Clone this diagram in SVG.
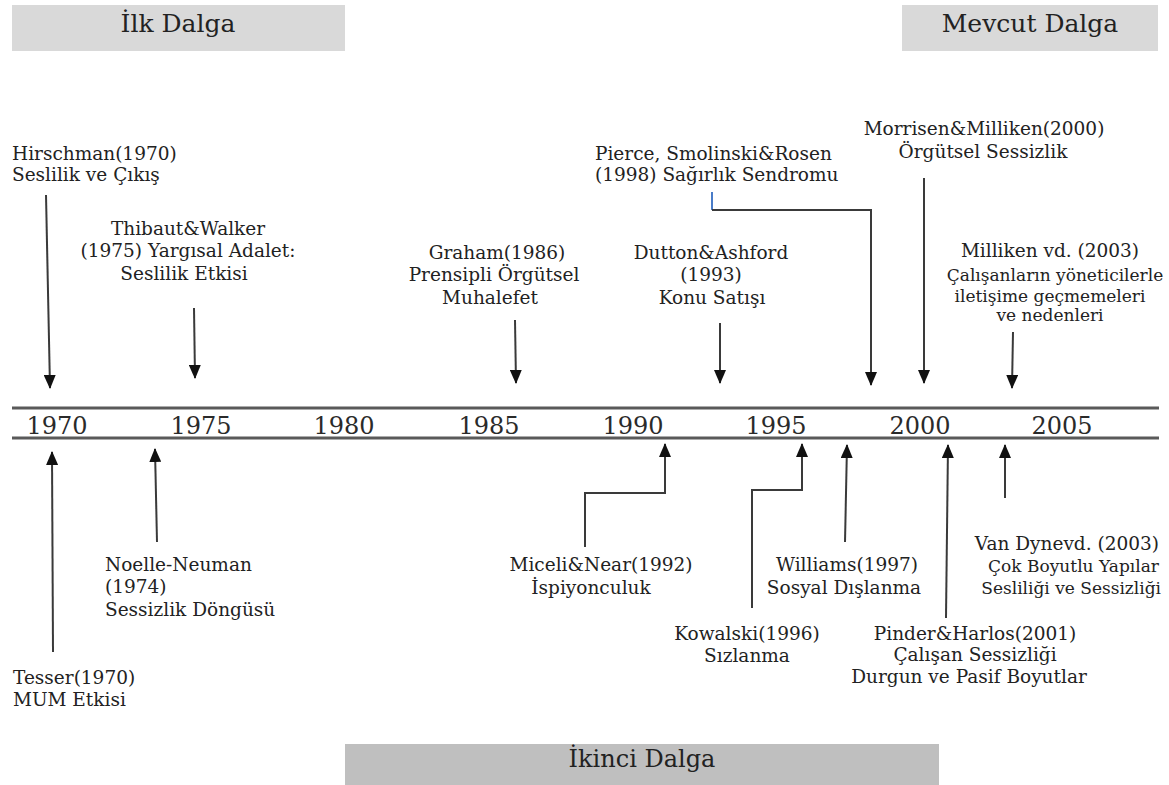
<svg xmlns="http://www.w3.org/2000/svg" width="1169" height="785" viewBox="0 0 1169 785">
  <style>
    .lbl { font-family: "DejaVu Serif", "Liberation Serif", serif; font-size: 18.5px; fill: #222; }
    .sm { font-size: 17px; }
    .mid { text-anchor: middle; }
    .end { text-anchor: end; }
    .year { font-family: "DejaVu Serif", "Liberation Serif", serif; font-size: 24px; fill: #2a2a2a; text-anchor: middle; }
    .wave { font-family: "DejaVu Serif", "Liberation Serif", serif; font-size: 25px; fill: #222; text-anchor: middle; }
    .axis { stroke: #5a5a5a; stroke-width: 3; fill: none; }
    .conn { stroke: #3a3a3a; stroke-width: 2; fill: none; marker-end: url(#arrow); }
  </style>
  <defs>
    <marker id="arrow" viewBox="0 0 14 12" refX="13" refY="6" markerWidth="14" markerHeight="12" markerUnits="userSpaceOnUse" orient="auto">
      <path d="M0,0 L14,6 L0,12 z" fill="#111"/>
    </marker>
  </defs>
  <rect width="1169" height="785" fill="#fff"/>

  <!-- wave headers -->
  <g id="wave-first">
    <rect x="12" y="5" width="333" height="46" fill="#d9d9d9"/>
    <text class="wave" x="178" y="32">İlk Dalga</text>
  </g>
  <g id="wave-current">
    <rect x="902" y="5" width="256" height="46" fill="#d9d9d9"/>
    <text class="wave" x="1030" y="32">Mevcut Dalga</text>
  </g>
  <g id="wave-second">
    <rect x="345" y="744" width="594" height="41" fill="#bfbfbf"/>
    <text class="wave" x="642" y="767" style="font-size:24px">İkinci Dalga</text>
  </g>

  <!-- time axis -->
  <g id="axis">
    <line class="axis" x1="12" y1="408" x2="1159" y2="408"/>
    <line class="axis" x1="12" y1="438" x2="1159" y2="438"/>
    <text class="year" x="57" y="434">1970</text>
    <text class="year" x="201" y="434">1975</text>
    <text class="year" x="344" y="434">1980</text>
    <text class="year" x="489" y="434">1985</text>
    <text class="year" x="633" y="434">1990</text>
    <text class="year" x="776" y="434">1995</text>
    <text class="year" x="920" y="434">2000</text>
    <text class="year" x="1062" y="434">2005</text>
  </g>

  <!-- events above the axis -->
  <g id="hirschman">
    <text class="lbl" x="12" y="160">Hirschman(1970)</text>
    <text class="lbl" x="12" y="181">Seslilik ve Çıkış</text>
  </g>
  <g id="thibaut-walker">
    <text class="lbl mid" x="188" y="235">Thibaut&amp;Walker</text>
    <text class="lbl mid" x="188" y="257">(1975) Yargısal Adalet:</text>
    <text class="lbl mid" x="184" y="280">Seslilik Etkisi</text>
  </g>
  <g id="graham">
    <text class="lbl mid" x="497" y="259">Graham(1986)</text>
    <text class="lbl mid" x="494" y="281">Prensipli Örgütsel</text>
    <text class="lbl mid" x="490" y="304">Muhalefet</text>
  </g>
  <g id="dutton-ashford">
    <text class="lbl mid" x="711" y="259">Dutton&amp;Ashford</text>
    <text class="lbl mid" x="711" y="281">(1993)</text>
    <text class="lbl mid" x="712" y="304">Konu Satışı</text>
  </g>
  <g id="pierce">
    <text class="lbl" x="595" y="160">Pierce, Smolinski&amp;Rosen</text>
    <text class="lbl" x="595" y="181">(1998) Sağırlık Sendromu</text>
  </g>
  <g id="morrisen-milliken">
    <text class="lbl mid" x="984" y="135">Morrisen&amp;Milliken(2000)</text>
    <text class="lbl mid" x="983" y="158">Örgütsel Sessizlik</text>
  </g>
  <g id="milliken">
    <text class="lbl mid" x="1050" y="257">Milliken vd. (2003)</text>
    <text class="lbl sm mid" x="1055" y="281">Çalışanların yöneticilerle</text>
    <text class="lbl sm mid" x="1050" y="302">iletişime geçmemeleri</text>
    <text class="lbl sm mid" x="1050" y="321">ve nedenleri</text>
  </g>

  <!-- events below the axis -->
  <g id="tesser">
    <text class="lbl" x="13" y="684">Tesser(1970)</text>
    <text class="lbl" x="13" y="706">MUM Etkisi</text>
  </g>
  <g id="noelle-neuman">
    <text class="lbl" x="105" y="571">Noelle-Neuman</text>
    <text class="lbl" x="105" y="593">(1974)</text>
    <text class="lbl" x="105" y="616">Sessizlik Döngüsü</text>
  </g>
  <g id="miceli-near">
    <text class="lbl mid" x="601" y="571">Miceli&amp;Near(1992)</text>
    <text class="lbl mid" x="591" y="594">İspiyonculuk</text>
  </g>
  <g id="kowalski">
    <text class="lbl mid" x="747" y="640">Kowalski(1996)</text>
    <text class="lbl mid" x="747" y="662">Sızlanma</text>
  </g>
  <g id="williams">
    <text class="lbl mid" x="847" y="571">Williams(1997)</text>
    <text class="lbl mid" x="844" y="594">Sosyal Dışlanma</text>
  </g>
  <g id="van-dyne">
    <text class="lbl end" x="1159" y="550">Van Dynevd. (2003)</text>
    <text class="lbl sm end" x="1159" y="572">Çok Boyutlu Yapılar</text>
    <text class="lbl sm end" x="1161" y="594">Sesliliği ve Sessizliği</text>
  </g>
  <g id="pinder-harlos">
    <text class="lbl mid" x="975" y="640">Pinder&amp;Harlos(2001)</text>
    <text class="lbl mid" x="975" y="661">Çalışan Sessizliği</text>
    <text class="lbl mid" x="969" y="683">Durgun ve Pasif Boyutlar</text>
  </g>

  <!-- connectors -->
  <g id="connectors">
    <line class="conn" x1="46" y1="195" x2="50" y2="388"/>
    <line class="conn" x1="194" y1="308" x2="195" y2="378"/>
    <line class="conn" x1="515" y1="320" x2="516" y2="383"/>
    <line class="conn" x1="720" y1="323" x2="720" y2="383"/>
    <line x1="712" y1="192" x2="712" y2="210" stroke="#4a7cc8" stroke-width="2"/>
    <path class="conn" d="M712,210 H871 V385"/>
    <line class="conn" x1="924" y1="178" x2="924" y2="383"/>
    <line class="conn" x1="1013" y1="332" x2="1012" y2="388"/>

    <line class="conn" x1="53" y1="652" x2="52" y2="452"/>
    <line class="conn" x1="157" y1="542" x2="155" y2="449"/>
    <path class="conn" d="M585,547 V493 H665 V444"/>
    <path class="conn" d="M752,608 V490 H802 V444"/>
    <line class="conn" x1="845" y1="542" x2="847" y2="445"/>
    <line class="conn" x1="946" y1="618" x2="948" y2="445"/>
    <line class="conn" x1="1005" y1="498" x2="1005" y2="445"/>
  </g>
</svg>
